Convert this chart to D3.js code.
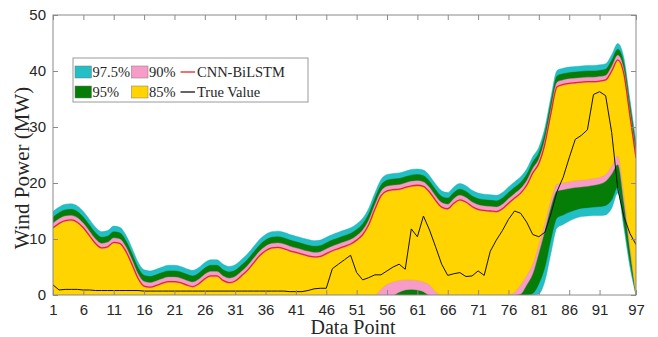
<!DOCTYPE html>
<html>
<head>
<meta charset="utf-8">
<script src="https://cdn.jsdelivr.net/npm/d3@7"></script>
<style>
  body { margin: 0; background: #fff; }
  svg { display: block; }
</style>
</head>
<body>
<div class="main"></div>
<script>
// data points 1..97
const forecast = [
  12.0,12.8,13.3,13.4,13.0,12.0,10.6,9.2,8.4,8.6,
  9.4,9.2,7.8,5.5,3.0,1.6,1.4,1.7,2.1,2.4,
  2.4,2.2,1.8,1.5,2.0,2.9,3.4,3.4,2.6,2.2,
  2.5,3.4,4.4,5.7,7.0,7.9,8.4,8.5,8.3,7.9,
  7.6,7.3,7.0,6.8,6.9,7.4,7.9,8.3,8.7,9.1,
  9.8,10.8,12.6,15.3,17.7,18.6,18.8,18.9,19.2,19.5,
  19.6,19.4,18.4,16.9,15.7,15.4,16.4,17.0,16.6,15.8,
  15.3,15.1,15.0,14.9,15.4,16.4,17.3,18.2,19.6,21.8,
  23.5,27.0,32.5,37.2,37.6,37.8,37.9,38.0,38.1,38.1,
  38.2,38.4,40.0,42.0,39.5,32.0,24.5
];

const trueValue = [
  1.8,0.9,1.0,1.0,1.0,0.9,0.9,0.8,0.8,0.8,
  0.8,0.8,0.8,0.8,0.8,0.7,0.7,0.7,0.7,0.7,
  0.7,0.7,0.7,0.7,0.7,0.7,0.7,0.7,0.7,0.7,
  0.7,0.7,0.7,0.7,0.7,0.7,0.7,0.7,0.7,0.6,
  0.6,0.6,0.8,1.1,1.2,1.2,4.7,5.5,6.3,7.1,
  4.0,2.7,3.1,3.6,3.6,4.3,5.0,5.5,4.6,11.8,
  10.4,14.1,11.6,8.6,5.5,3.5,3.8,4.0,3.3,3.4,
  4.3,3.5,7.8,9.8,11.5,13.5,15.0,14.6,13.0,10.8,
  10.4,11.2,14.5,18.5,21.0,24.5,27.8,28.5,29.5,35.8,
  36.3,35.6,29.0,19.0,14.0,11.0,9.0
];

const upper85 = [
  11.8,12.6,13.1,13.2,12.8,11.8,10.4,9.0,8.2,8.4,
  9.2,9.0,7.6,5.3,2.8,1.4,1.2,1.5,1.9,2.2,
  2.2,2.0,1.6,1.3,1.8,2.7,3.2,3.2,2.4,2.0,
  2.3,3.2,4.2,5.5,6.8,7.7,8.2,8.3,8.1,7.7,
  7.4,7.1,6.8,6.6,6.7,7.2,7.7,8.1,8.5,8.9,
  9.6,10.6,12.4,15.1,17.5,18.4,18.6,18.7,19.0,19.3,
  19.4,19.2,18.2,16.7,15.5,15.2,16.2,16.8,16.4,15.6,
  15.1,14.9,14.8,14.7,15.2,16.2,17.1,18.0,19.4,21.6,
  23.3,26.8,32.3,37.0,37.4,37.6,37.7,37.8,37.9,37.9,
  38.0,38.2,39.8,41.8,39.3,31.8,24.3
];
const upper90 = [
  12.8,13.6,14.1,14.2,13.8,12.8,11.4,10.0,9.2,9.4,
  10.2,10.0,8.6,6.3,3.8,2.4,2.2,2.5,2.9,3.2,
  3.2,3.0,2.6,2.3,2.8,3.7,4.2,4.2,3.4,3.0,
  3.3,4.2,5.2,6.5,7.8,8.7,9.2,9.3,9.1,8.7,
  8.4,8.1,7.8,7.6,7.7,8.2,8.7,9.1,9.5,9.9,
  10.6,11.6,13.4,16.1,18.5,19.4,19.6,19.7,20.0,20.3,
  20.4,20.2,19.2,17.7,16.5,16.2,17.2,17.8,17.4,16.6,
  16.1,15.9,15.8,15.7,16.2,17.2,18.1,19.0,20.4,22.6,
  24.3,27.8,33.3,38.0,38.4,38.6,38.7,38.8,38.9,38.9,
  39.0,39.2,40.8,42.8,40.3,32.8,25.3
];
const upper95 = [
  13.9,14.7,15.2,15.3,14.9,13.9,12.5,11.1,10.3,10.5,
  11.3,11.1,9.7,7.4,4.9,3.5,3.3,3.6,4.0,4.3,
  4.3,4.1,3.7,3.4,3.9,4.8,5.3,5.3,4.5,4.1,
  4.4,5.3,6.3,7.6,8.9,9.8,10.3,10.4,10.2,9.8,
  9.5,9.2,8.9,8.7,8.8,9.3,9.8,10.2,10.6,11.0,
  11.7,12.7,14.5,17.2,19.6,20.5,20.7,20.8,21.1,21.4,
  21.5,21.3,20.3,18.8,17.6,17.3,18.3,18.9,18.5,17.7,
  17.2,17.0,16.9,16.8,17.3,18.3,19.2,20.1,21.5,23.7,
  25.4,28.9,34.4,39.1,39.5,39.7,39.8,39.9,40.0,40.0,
  40.1,40.3,41.9,43.9,41.4,33.9,26.4
];
const upper975 = [
  14.9,15.7,16.2,16.3,15.9,14.9,13.5,12.1,11.3,11.5,
  12.3,12.1,10.7,8.4,5.9,4.5,4.3,4.6,5.0,5.3,
  5.3,5.1,4.7,4.4,4.9,5.8,6.3,6.3,5.5,5.1,
  5.4,6.3,7.3,8.6,9.9,10.8,11.3,11.4,11.2,10.8,
  10.5,10.2,9.9,9.7,9.8,10.3,10.8,11.2,11.6,12.0,
  12.7,13.7,15.5,18.2,20.6,21.5,21.7,21.8,22.1,22.4,
  22.5,22.3,21.3,19.8,18.6,18.3,19.3,19.9,19.5,18.7,
  18.2,18.0,17.9,17.8,18.3,19.3,20.2,21.1,22.5,24.7,
  26.4,29.9,35.4,40.1,40.5,40.7,40.8,40.9,41.0,41.0,
  41.1,41.3,42.9,44.9,42.4,34.9,27.4
];

// lower bounds (clipped at 0 by the axis)
const lower85 = [
  0,0,0,0,0,0,0,0,0,0,
  0,0,0,0,0,0,0,0,0,0,
  0,0,0,0,0,0,0,0,0,0,
  0,0,0,0,0,0,0,0,0,0,
  0,0,0,0,0,0,0,0,0,0,
  0,0,0,0,1.0,1.9,2.3,2.6,2.7,2.7,
  2.6,2.3,1.8,0.6,0,0,0,0,0,0,
  0,0,0,0,0,0,0.5,1.8,3.5,5.5,
  9.0,12.8,17.0,19.8,20.0,20.2,20.4,20.5,20.6,20.8,
  21.0,21.5,23.0,24.8,18.0,9.0,0
];
const lower90 = [
  0,0,0,0,0,0,0,0,0,0,
  0,0,0,0,0,0,0,0,0,0,
  0,0,0,0,0,0,0,0,0,0,
  0,0,0,0,0,0,0,0,0,0,
  0,0,0,0,0,0,0,0,0,0,
  0,0,0,0,0,0,0,0.5,0.9,1.0,
  0.9,0.6,0,0,0,0,0,0,0,0,
  0,0,0,0,0,0,0,0.2,1.8,3.8,
  7.5,11.5,15.8,18.6,18.8,19.0,19.2,19.3,19.4,19.6,
  19.8,20.3,21.6,23.3,16.5,8.0,0
];
const lower95 = [
  0,0,0,0,0,0,0,0,0,0,
  0,0,0,0,0,0,0,0,0,0,
  0,0,0,0,0,0,0,0,0,0,
  0,0,0,0,0,0,0,0,0,0,
  0,0,0,0,0,0,0,0,0,0,
  0,0,0,0,0,0,0,0,0,0,
  0,0,0,0,0,0,0,0,0,0,
  0,0,0,0,0,0,0,0,0,0.3,
  2.0,5.0,10.0,13.8,14.3,14.8,15.2,15.5,15.6,15.7,
  15.8,16.0,17.0,19.3,13.0,6.0,0
];
const lower975 = [
  0,0,0,0,0,0,0,0,0,0,
  0,0,0,0,0,0,0,0,0,0,
  0,0,0,0,0,0,0,0,0,0,
  0,0,0,0,0,0,0,0,0,0,
  0,0,0,0,0,0,0,0,0,0,
  0,0,0,0,0,0,0,0,0,0,
  0,0,0,0,0,0,0,0,0,0,
  0,0,0,0,0,0,0,0,0,0,
  0.2,2.5,7.5,12.0,12.6,13.2,13.7,14.0,14.1,14.2,
  14.2,14.3,15.5,18.2,12.0,5.0,0
];

const xTicks = [1, 6, 11, 16, 21, 26, 31, 36, 41, 46, 51, 56, 61, 66, 71, 76, 81, 86, 91, 97];
const yTicks = [0, 10, 20, 30, 40, 50];

const bands = [
  { label: "97.5%", lower: lower975, upper: upper975, color: "#22bfc6" },
  { label: "95%",   lower: lower95,  upper: upper95,  color: "#067d06" },
  { label: "90%",   lower: lower90,  upper: upper90,  color: "#f79cc9" },
  { label: "85%",   lower: lower85,  upper: upper85,  color: "#ffd400" }
];

let width = 658;
let height = 337;
let margin = { top: 15, right: 22, bottom: 42, left: 53 };

let svg = d3.select(".main")
    .append("svg")
    .attr("width", width)
    .attr("height", height);

let x = d3.scaleLinear().domain([1, 97]).range([margin.left, width - margin.right]);
let y = d3.scaleLinear().domain([0, 50]).range([height - margin.bottom, margin.top]);

svg.append("clipPath")
    .attr("id", "plot-clip")
    .append("rect")
    .attr("x", margin.left)
    .attr("y", margin.top)
    .attr("width", width - margin.left - margin.right)
    .attr("height", height - margin.top - margin.bottom);

let plot = svg.append("g").attr("clip-path", "url(#plot-clip)");

// bands, widest first
bands.forEach(b => {
    let area = d3.area()
        .x((d, i) => x(i + 1))
        .y0((d, i) => y(b.lower[i]))
        .y1((d, i) => y(b.upper[i]))
        .curve(d3.curveMonotoneX);
    plot.append("path")
        .datum(b.upper)
        .attr("d", area)
        .attr("fill", b.color)
        .attr("stroke", d3.color(b.color).darker(0.4))
        .attr("stroke-width", 0.4);
});

let forecastLine = d3.line()
    .x((d, i) => x(i + 1))
    .y(d => y(d))
    .curve(d3.curveMonotoneX);

plot.append("path")
    .datum(forecast)
    .attr("d", forecastLine)
    .attr("fill", "none")
    .attr("stroke", "#e2262a")
    .attr("stroke-width", 1.3);

let trueLine = d3.line()
    .x((d, i) => x(i + 1))
    .y(d => y(d));

plot.append("path")
    .datum(trueValue)
    .attr("d", trueLine)
    .attr("fill", "none")
    .attr("stroke", "#111")
    .attr("stroke-width", 1);

// axes, ticks pointing inward on all four sides
let axisColor = "#8a8a8a";
let labelColor = "#262626";

let xAxis = svg.append("g")
    .attr("transform", `translate(0,${height - margin.bottom})`)
    .call(d3.axisBottom(x).tickValues(xTicks).tickSize(-5).tickPadding(9));
let xTop = svg.append("g")
    .attr("transform", `translate(0,${margin.top})`)
    .call(d3.axisTop(x).tickValues(xTicks).tickSize(-5).tickFormat(""));
let yAxis = svg.append("g")
    .attr("transform", `translate(${margin.left},0)`)
    .call(d3.axisLeft(y).tickValues(yTicks).tickSize(-5).tickPadding(7));
let yRight = svg.append("g")
    .attr("transform", `translate(${width - margin.right},0)`)
    .call(d3.axisRight(y).tickValues(yTicks).tickSize(-5).tickFormat(""));

[xAxis, xTop, yAxis, yRight].forEach(g => {
    g.select(".domain").remove();
    g.selectAll(".tick line").attr("stroke", axisColor);
    g.selectAll("text")
        .attr("fill", labelColor)
        .style("font-family", "'Liberation Sans', Arial, sans-serif")
        .style("font-size", "15px");
});

svg.append("rect")
    .attr("x", margin.left)
    .attr("y", margin.top)
    .attr("width", width - margin.left - margin.right)
    .attr("height", height - margin.top - margin.bottom)
    .attr("fill", "none")
    .attr("stroke", axisColor)
    .attr("stroke-width", 1);

// axis titles
svg.append("text")
    .attr("x", 353)
    .attr("y", 334)
    .attr("text-anchor", "middle")
    .style("font-family", "'Liberation Serif', 'Times New Roman', serif")
    .style("font-size", "20px")
    .attr("fill", labelColor)
    .text("Data Point");

svg.append("text")
    .attr("transform", "translate(29,168) rotate(-90)")
    .attr("text-anchor", "middle")
    .style("font-family", "'Liberation Serif', 'Times New Roman', serif")
    .style("font-size", "21px")
    .attr("fill", labelColor)
    .text("Wind Power (MW)");

// legend, two columns of swatches
let legend = svg.append("g");
legend.append("rect")
    .attr("x", 73).attr("y", 58)
    .attr("width", 235).attr("height", 44)
    .attr("fill", "#fff")
    .attr("stroke", "#9a9a9a")
    .attr("stroke-width", 1);

let legendFont = "'Liberation Serif', 'Times New Roman', serif";
let swatches = [
    { band: bands[0], x: 75,    y: 66 },
    { band: bands[2], x: 131.5, y: 66 },
    { band: bands[1], x: 75,    y: 86 },
    { band: bands[3], x: 131.5, y: 86 }
];
swatches.forEach(s => {
    legend.append("rect")
        .attr("x", s.x).attr("y", s.y)
        .attr("width", 16.5).attr("height", 12)
        .attr("fill", s.band.color)
        .attr("stroke", "#777")
        .attr("stroke-width", 0.5);
    legend.append("text")
        .attr("x", s.x + 17.5).attr("y", s.y + 11)
        .style("font-family", legendFont)
        .style("font-size", "14.5px")
        .attr("fill", labelColor)
        .text(s.band.label);
});

let lineItems = [
    { label: "CNN-BiLSTM", color: "#e2262a", y: 72 },
    { label: "True Value", color: "#111", y: 92 }
];
lineItems.forEach(l => {
    legend.append("line")
        .attr("x1", 180.5).attr("x2", 195)
        .attr("y1", l.y).attr("y2", l.y)
        .attr("stroke", l.color)
        .attr("stroke-width", 1.3);
    legend.append("text")
        .attr("x", 197).attr("y", l.y + 5)
        .style("font-family", legendFont)
        .style("font-size", "14.5px")
        .attr("fill", labelColor)
        .text(l.label);
});
</script>
</body>
</html>
